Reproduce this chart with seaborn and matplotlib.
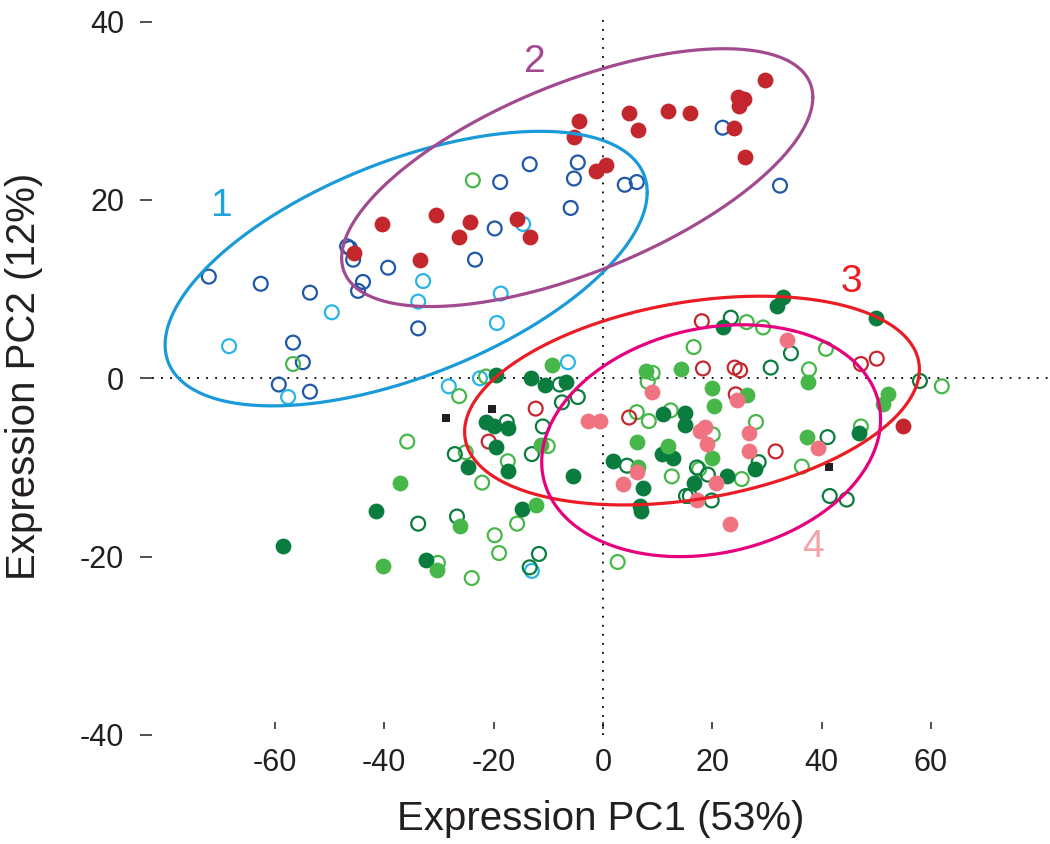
import numpy as np
import pandas as pd
import matplotlib
matplotlib.use("Agg")
import matplotlib.pyplot as plt
import seaborn as sns

# point groups (PC1, PC2)
red_fill_x = [-45.5, -40.4, -33.5, -30.5, -26.3, -24.3, -15.7, -13.4, -5.3, -4.4, -1.3, 0.5,
              4.8, 6.4, 11.9, 15.9, 24.0, 24.7, 25.8, 24.9, 26.0, 29.6, 54.9]
red_fill_y = [14.0, 17.3, 13.3, 18.3, 15.8, 17.5, 17.9, 15.8, 27.1, 28.8, 23.2, 23.9,
              29.8, 27.8, 30.0, 29.8, 28.1, 31.5, 31.3, 30.5, 24.8, 33.5, -5.4]

navy_open_x = [-72.1, -62.6, -53.6, -56.7, -54.9, -59.3, -53.6, -46.8, -46.3, -45.7, -43.9, -44.8,
               -39.3, -33.8, -23.4, -19.8, -18.8, -13.4, -4.6, -5.3, -5.9, 4.0, 6.2, 21.9, 32.4]
navy_open_y = [11.4, 10.6, 9.6, 4.0, 1.8, -0.7, -1.5, 14.8, 14.6, 13.3, 10.8, 9.8,
               12.4, 5.6, 13.3, 16.8, 22.0, 24.0, 24.2, 22.4, 19.1, 21.7, 22.0, 28.1, 21.6]

cyan_open_x = [-68.4, -57.6, -49.6, -33.8, -32.9, -18.7, -19.4, -14.6, -6.4, -28.2, -22.5, -13.0]
cyan_open_y = [3.6, -2.1, 7.4, 8.6, 10.9, 9.5, 6.2, 17.3, 1.8, -0.9, 0.0, -21.6]

red_open_x = [-12.3, -20.9, 18.1, 18.3, 24.1, 25.1, 24.3, 4.8, 31.6, 47.2, 50.1]
red_open_y = [-3.4, -7.1, 6.4, 1.1, 1.2, 0.9, -1.8, -4.4, -8.2, 1.6, 2.2]

pink_fill_x = [-2.7, -0.5, 3.7, 6.2, 9.0, 17.7, 18.7, 19.0, 20.7, 17.2, 23.2, 24.5, 26.7, 26.7, 33.7, 39.3]
pink_fill_y = [-4.8, -4.8, -11.8, -10.5, -1.5, -5.9, -5.5, -7.4, -11.7, -13.7, -16.3, -2.4, -6.1, -8.2, 4.3, -7.8]

dkgreen_fill_x = [-19.6, -13.2, -10.6, -6.8, -21.4, -19.9, -17.4, -19.6, -24.7, -17.4, -5.5, 1.8,
                  -14.8, -32.4, -41.5, -58.5, 32.9, 31.8, 21.9, 11.0, 15.0, 15.0, 10.8, 12.8,
                  7.3, 16.6, 22.7, 27.8, 7.0, 6.8, 49.9, 46.8]
dkgreen_fill_y = [0.4, 0.0, -0.7, -0.4, -4.9, -5.3, -5.6, -7.7, -9.9, -10.4, -11.0, -9.3,
                  -14.7, -20.4, -14.9, -18.8, 9.1, 8.1, 5.8, -4.0, -3.9, -5.2, -8.5, -8.9,
                  -12.3, -11.7, -11.0, -10.2, -14.9, -14.3, 6.8, -6.1]

ltgreen_fill_x = [-9.3, -11.3, -37.1, -26.2, -12.3, -40.2, -30.4, 7.9, 14.3, 19.9, 20.3, 26.3,
                  37.5, 6.2, 11.9, 6.4, 19.9, 37.3, 52.1, 51.2]
ltgreen_fill_y = [1.5, -7.5, -11.7, -16.6, -14.2, -21.0, -21.5, 0.8, 1.0, -1.1, -3.1, -1.9,
                  -0.4, -7.2, -7.6, -9.9, -8.9, -6.6, -1.8, -2.9]

dkgreen_open_x = [-7.9, -7.5, -4.6, -17.6, -11.0, -13.0, -27.1, 4.4, -26.7, -33.8, -11.7, -13.4,
                  23.4, 34.4, 30.7, 41.1, 28.5, 17.2, 19.2, 15.2, 15.9, 19.9, 41.5, 44.6, 58.0]
dkgreen_open_y = [-0.7, -2.7, -2.1, -4.9, -5.4, -8.5, -8.5, -9.8, -15.5, -16.3, -19.7, -21.2,
                  6.8, 2.8, 1.2, -6.6, -9.4, -10.0, -10.8, -13.2, -13.2, -13.7, -13.2, -13.6, -0.3]

ltgreen_open_x = [-21.4, -26.3, -35.8, -25.1, -17.4, -10.1, -22.1, -15.7, -19.8, -19.0, -24.0, 2.7,
                  -30.2, -56.7, -23.8, 16.6, 26.3, 29.3, 40.8, 37.7, 9.1, 8.2, 6.2, 8.4, 12.4,
                  28.0, 20.1, 12.6, 25.4, 36.4, 17.6, 62.0, 47.2]
ltgreen_open_y = [0.2, -2.0, -7.1, -8.3, -9.3, -7.6, -11.7, -16.3, -17.6, -19.6, -22.4, -20.6,
                  -20.7, 1.6, 22.2, 3.5, 6.3, 5.7, 3.3, 1.0, 0.6, -0.4, -3.8, -4.8, -3.6,
                  -4.9, -6.3, -11.0, -11.3, -9.9, -10.2, -0.9, -5.4]

square_x = [-28.7, -20.3, 41.3]
square_y = [-4.4, -3.4, -9.9]

# cluster ellipses: centre and covariance-like shape (xx, xy, yy)
ell_names = ["1", "2", "3", "4"]
ell_cx = [-36.0, -4.7, 16.3, 19.8]
ell_cy = [12.3, 22.5, -2.5, -7.0]
ell_sxx = [1945, 1858, 1731, 961]
ell_sxy = [377, 388, 146, 74]
ell_syy = [237, 209, 137, 169]
ell_colors = ["#1a9ad8", "#a24a8f", "#ec1c24", "#e6007e"]
lab_x = [-69.7, -12.4, 45.5, 38.4]
lab_y = [19.3, 35.5, 10.8, -18.9]
lab_colors = ["#1ea3dc", "#a24a8f", "#ec1c24", "#f4a3a8"]

groups = [
    ("navy", navy_open_x, navy_open_y, "#1f58a6", False),
    ("cyan", cyan_open_x, cyan_open_y, "#29b5e8", False),
    ("ltgreen_o", ltgreen_open_x, ltgreen_open_y, "#47b749", False),
    ("dkgreen_o", dkgreen_open_x, dkgreen_open_y, "#0a7c3e", False),
    ("red_o", red_open_x, red_open_y, "#c4262e", False),
    ("dkgreen_f", dkgreen_fill_x, dkgreen_fill_y, "#0a7c3e", True),
    ("ltgreen_f", ltgreen_fill_x, ltgreen_fill_y, "#47b749", True),
    ("pink", pink_fill_x, pink_fill_y, "#ef7380", True),
    ("red_f", red_fill_x, red_fill_y, "#c4262e", True),
]

sns.set_style("white")
plt.rcParams["font.family"] = ["Liberation Sans", "DejaVu Sans"]
plt.rcParams["axes.unicode_minus"] = False

fig = plt.figure(figsize=(10.5, 8.44), dpi=100)
ax = fig.add_axes([152 / 1050, 109 / 844, 898 / 1050, 717 / 844])

# reference lines through origin
ax.axhline(0, color="black", lw=1.3, ls=(0, (1, 4)), zorder=1)
ax.axvline(0, color="black", lw=1.3, ls=(0, (1, 4)), zorder=1)

for name, xs, ys, col, filled in groups:
    df = pd.DataFrame({"PC1": xs, "PC2": ys})
    if filled:
        sns.scatterplot(data=df, x="PC1", y="PC2", ax=ax, color=col, s=130,
                        linewidth=0, zorder=3)
    else:
        sns.scatterplot(data=df, x="PC1", y="PC2", ax=ax, facecolors="none",
                        edgecolor=col, s=100, linewidth=1.6, zorder=3)

sq = pd.DataFrame({"PC1": square_x, "PC2": square_y})
sns.scatterplot(data=sq, x="PC1", y="PC2", ax=ax, marker="s", color="#231f20",
                s=30, linewidth=0, zorder=3)

t = np.linspace(0, 2 * np.pi, 400)
for i in range(len(ell_names)):
    cov = np.array([[ell_sxx[i], ell_sxy[i]], [ell_sxy[i], ell_syy[i]]])
    L = np.linalg.cholesky(cov)
    pts = L @ np.vstack([np.cos(t), np.sin(t)])
    ax.plot(ell_cx[i] + pts[0], ell_cy[i] + pts[1], color=ell_colors[i], lw=2.3, zorder=4)
    ax.text(lab_x[i], lab_y[i], ell_names[i], color=lab_colors[i], fontsize=28,
            ha="center", va="center")

ax.set_xlim(-82.5, 81.8)
ax.set_ylim(-40, 40.4)
ax.set_xticks([-60, -40, -20, 0, 20, 40, 60])
ax.set_yticks([-40, -20, 0, 20, 40])
sns.despine(ax=ax, left=True, bottom=True)
ax.spines["bottom"].set_position(("data", -38.5))
ax.tick_params(axis="y", direction="out", length=9, width=1.1, pad=11,
               labelsize=22, colors="#231f20", left=True)
ax.tick_params(axis="x", direction="out", length=5, width=1.1, pad=14,
               labelsize=22, colors="#231f20", bottom=True)

ax.set_xlabel("Expression PC1 (53%)", fontsize=29, color="#231f20")
ax.set_ylabel("Expression PC2 (12%)", fontsize=29, color="#231f20")
ax.xaxis.set_label_coords(0.5, -0.09)
ax.yaxis.set_label_coords(-0.121, 0.5)

fig.savefig("out.png", dpi=100)
